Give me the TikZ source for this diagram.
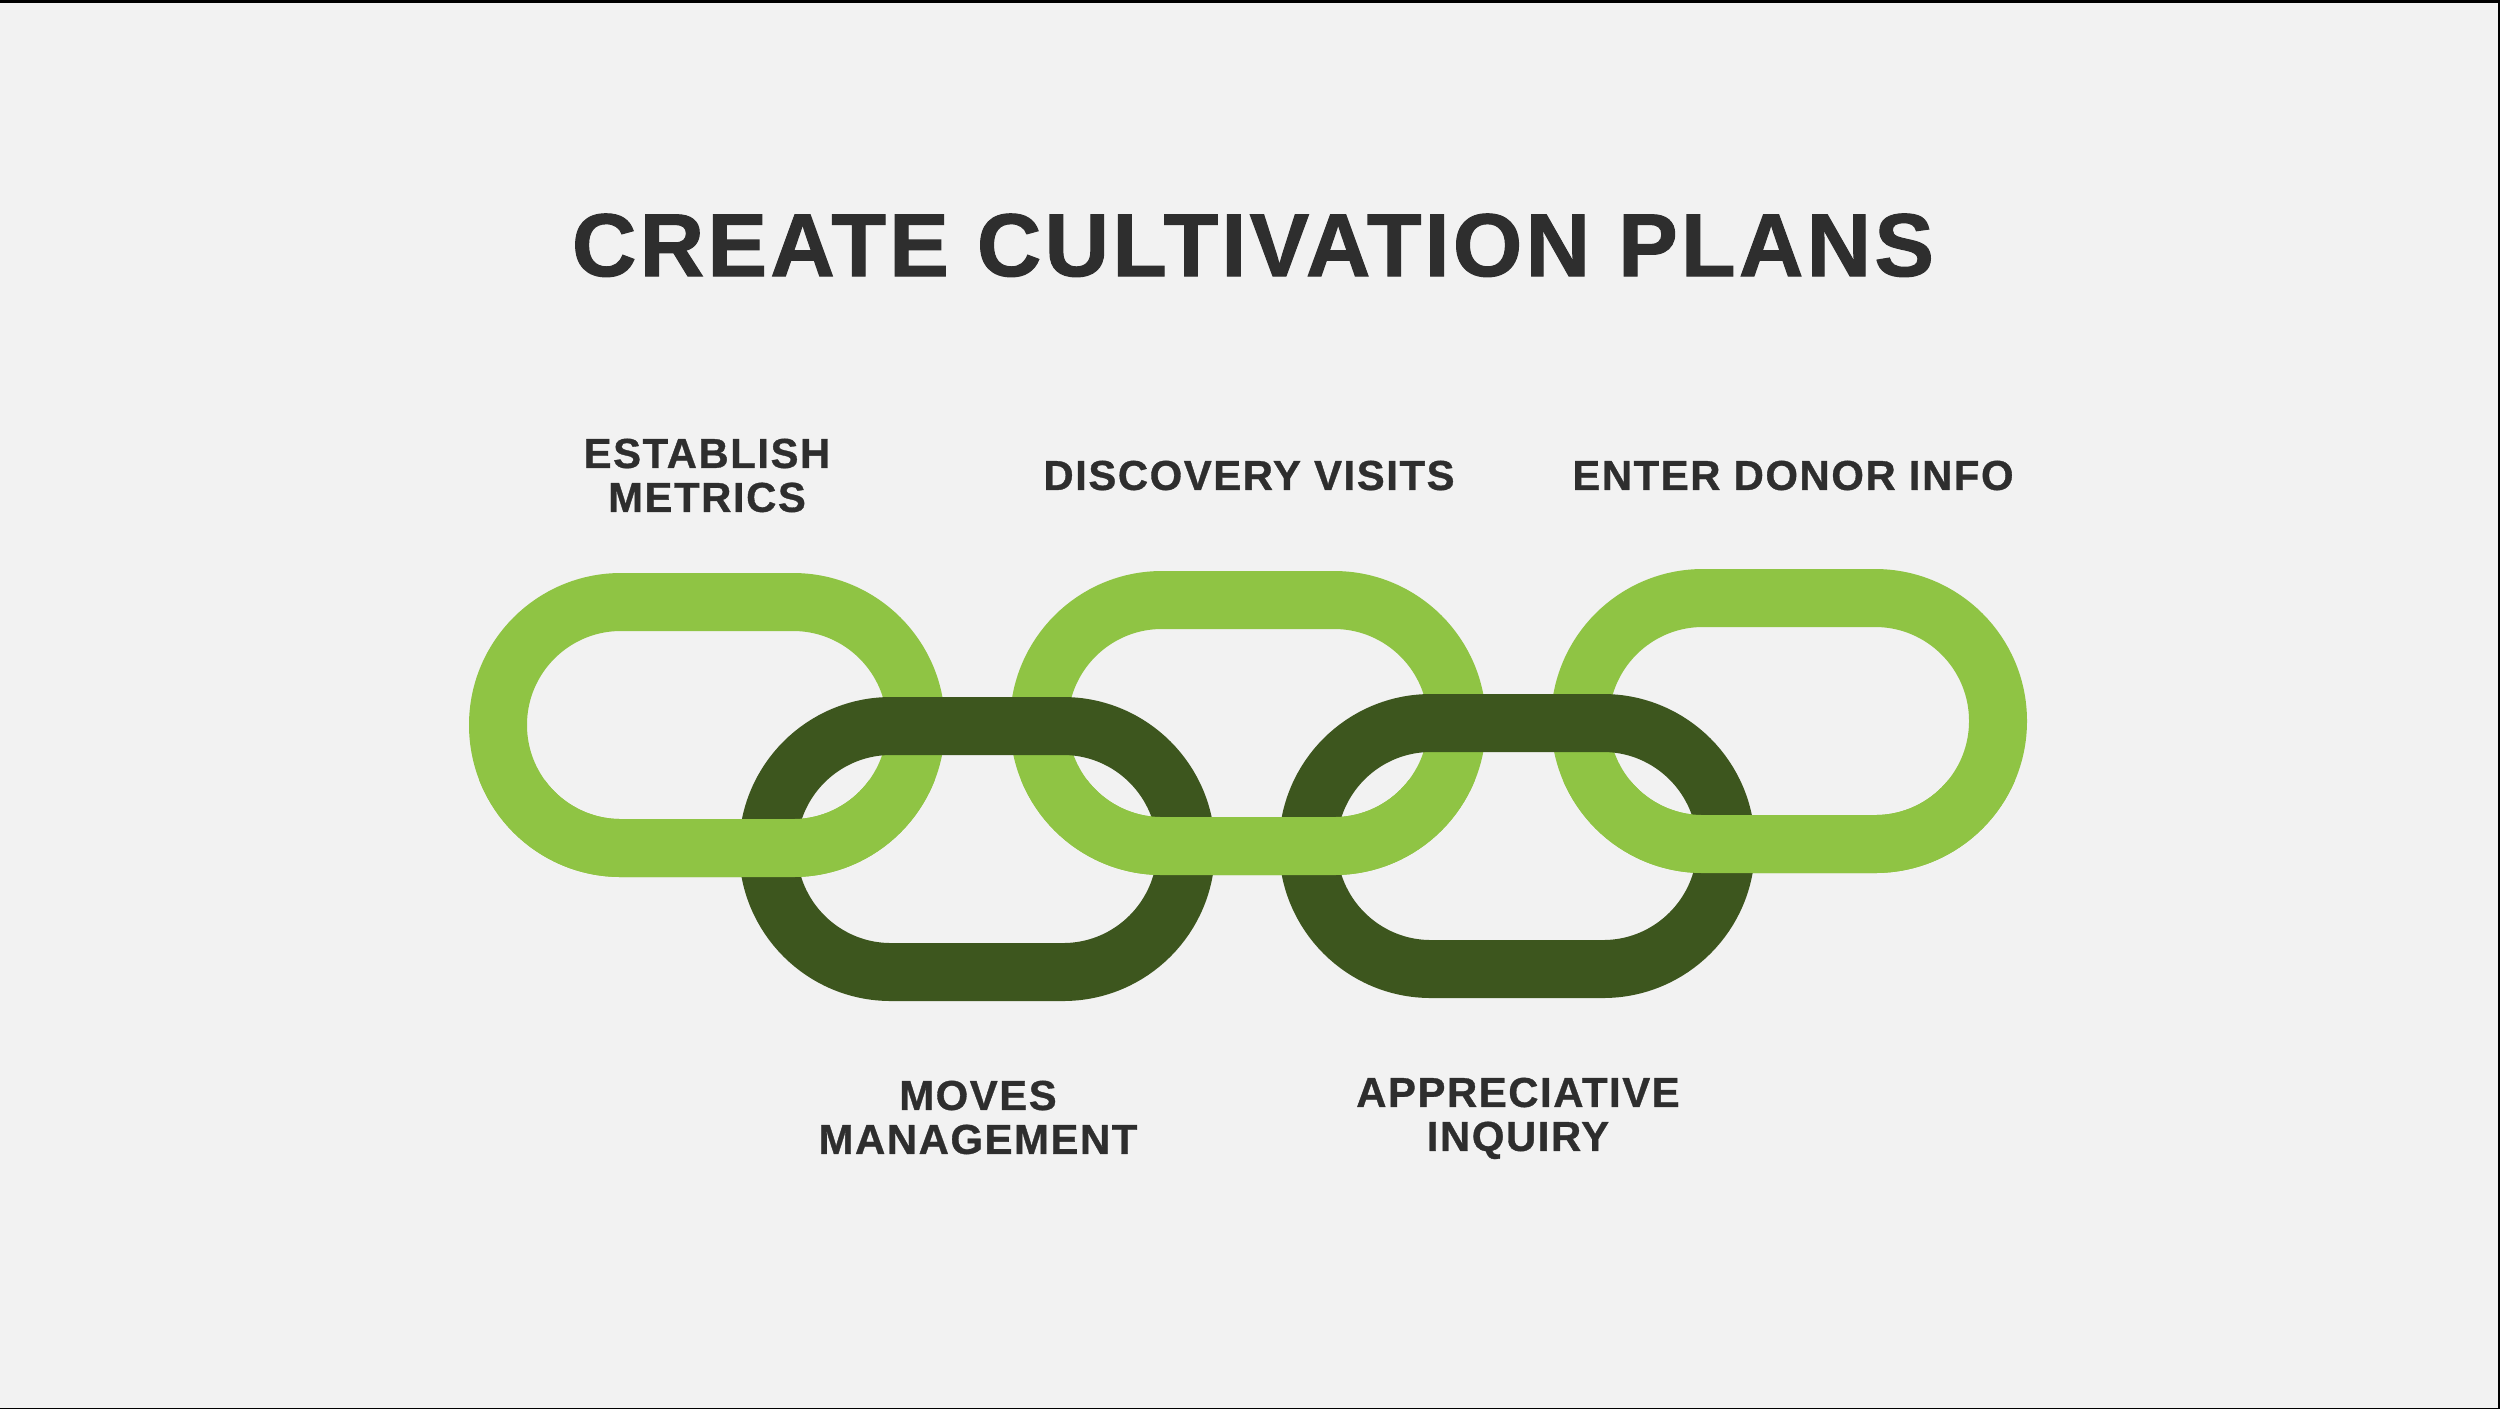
\documentclass[tikz,border=0pt]{standalone}
\usepackage{fontspec}
\setmainfont{Liberation Sans}
\definecolor{bg}{HTML}{F2F2F2}
\definecolor{lightg}{HTML}{8FC444}
\definecolor{darkg}{HTML}{3D561E}
\definecolor{ink}{HTML}{2E2E2E}
\newcommand\chainlink[3]{\draw[#1] ({#2-209},{#3-123}) rectangle ({#2+209},{#3+123});}
\begin{document}
\begin{tikzpicture}[x=0.1mm,y=-0.1mm,
  link/.style={line width=5.8mm, rounded corners=12.29mm},
  lightlink/.style={link, draw=lightg},
  darklink/.style={link, draw=darkg},
  lbl/.style={anchor=north, inner sep=0, align=center, text=ink,
    font=\bfseries\fontsize{11.9pt}{12.5pt}\selectfont\addfontfeature{LetterSpace=3.8,FakeBold=0.8}},
  ttl/.style={anchor=north, inner sep=0, text=ink,
    font=\bfseries\fontsize{25.4pt}{30pt}\selectfont\addfontfeature{LetterSpace=3.7,FakeBold=1.2}}]
\fill[bg] (0,0) rectangle (2500,1409);
\useasboundingbox (0,0) rectangle (2500,1409);
% frame lines
\fill[black] (0,0) rectangle (2500,3);
\fill[black] (2498,0) rectangle (2500,1409);
\fill[black] (0,1407.5) rectangle (2500,1409);
% light links
\chainlink{lightlink}{707}{725}
\chainlink{lightlink}{1248}{723}
\chainlink{lightlink}{1789}{721}
% dark links
\chainlink{darklink}{977}{849}
\chainlink{darklink}{1517}{846}
% light links over dark at the bottom crossings
\begin{scope}
\clip (0,780) rectangle (2500,1409);
\chainlink{lightlink}{707}{725}
\chainlink{lightlink}{1248}{723}
\chainlink{lightlink}{1789}{721}
\end{scope}
% texts
\node[ttl] (title) at (1253,213) {CREATE CULTIVATION PLANS};
\node[lbl] (metrics) at (707,438) {ESTABLISH\\METRICS};
\node[lbl] (visits) at (1249,460) {DISCOVERY VISITS};
\node[lbl] (donor) at (1793,460) {ENTER DONOR INFO};
\node[lbl] (moves) at (978,1080) {MOVES\\MANAGEMENT};
\node[lbl] (inquiry) at (1518,1077) {APPRECIATIVE\\INQUIRY};
\end{tikzpicture}
\end{document}
